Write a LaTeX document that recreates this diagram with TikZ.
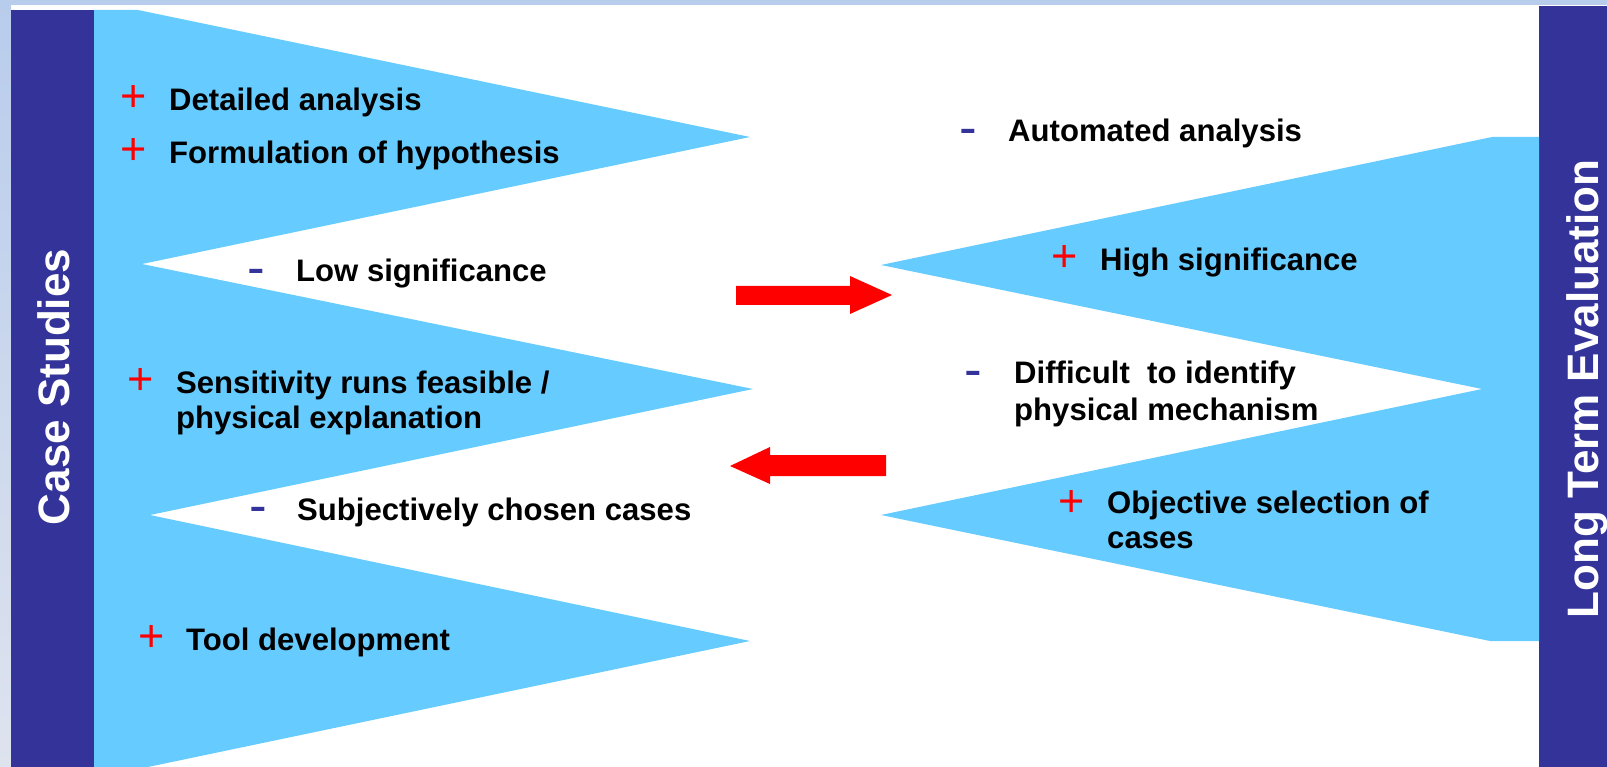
\documentclass[tikz,border=0pt]{standalone}
\usepackage{fontspec}
\setmainfont{Liberation Sans}
\definecolor{barblue}{HTML}{333399}
\definecolor{skyfill}{HTML}{66CCFF}
\definecolor{topband}{HTML}{B8CCEC}
\definecolor{stripend}{HTML}{DEE3EE}
\definecolor{arrowred}{HTML}{FF0000}
\begin{document}
\begin{tikzpicture}[x=1pt,y=-1pt,
  item/.style={anchor=base west, inner sep=0pt, font=\fontsize{31.1}{35}\selectfont\bfseries},
  plus/.style={anchor=base, inner sep=0pt, text=arrowred, font=\fontsize{45}{45}\selectfont},
  minus/.style={anchor=base, inner sep=0pt, text=barblue, font=\fontsize{53}{53}\selectfont},
  vlabel/.style={rotate=90, text=white, font=\fontsize{44}{44}\selectfont\bfseries, inner sep=0pt},
  blockarrow/.style={fill=arrowred, draw=none}]
\useasboundingbox (0,0) rectangle (1607,767);
% background
\fill[white] (0,0) rectangle (1607,767);
\shade[top color=topband, bottom color=stripend] (0,0) rectangle (11,767);
\fill[topband] (0,0) rectangle (1607,5);
% bars
\fill[barblue] (11,10) rectangle (94,767);
\fill[barblue] (1539,6) rectangle (1607,767);
% left zigzag
\fill[skyfill] (94,10) -- (138,10) -- (750,137) -- (142,264) -- (753,389)
  -- (150,515) -- (750,641) -- (148,767) -- (94,767) -- cycle;
% right zigzag
\fill[skyfill] (1539,137) -- (1492,137) -- (881,265) -- (1482,389)
  -- (881,515) -- (1490,641) -- (1539,641) -- cycle;
% arrows
\fill[blockarrow] (736,286) -- (850,286) -- (850,276) -- (892,295) -- (850,314) -- (850,305) -- (736,305) -- cycle;
\fill[blockarrow] (886,455) -- (770,455) -- (770,447) -- (730,466) -- (770,484) -- (770,476) -- (886,476) -- cycle;
% vertical labels
\node[vlabel, anchor=base] (cs) at (69,387) {Case Studies};
\node[vlabel, anchor=base] (lte) at (1598,389) {Long Term Evaluation};
% left texts
\node[plus] (p1) at (134,111.5) {+};
\node[item] (t1) at (169,110.5) {Detailed analysis};
\node[plus] (p2) at (134,164.5) {+};
\node[item] (t2) at (169,164) {Formulation of hypothesis};
\node[minus] (m1) at (256,285.5) {-};
\node[item] (t3) at (296,282) {Low significance};
\node[plus] (p3) at (141,394) {+};
\node[item] (t4a) at (176,393) {Sensitivity runs feasible /};
\node[item] (t4b) at (176,428.5) {physical explanation};
\node[minus] (m2) at (258,523.5) {-};
\node[item] (t5) at (297,520) {Subjectively chosen cases};
\node[plus] (p4) at (152,651) {+};
\node[item] (t6) at (186,650) {Tool development};
% right texts
\node[minus] (m3) at (968,145.5) {-};
\node[item] (t7) at (1008,142) {Automated analysis};
\node[plus] (p5) at (1065,272) {+};
\node[item] (t8) at (1100,271) {High significance};
\node[minus] (m4) at (973,387.5) {-};
\node[item] (t9a) at (1014,384) {Difficult\ \ to identify};
\node[item] (t9b) at (1014,420) {physical mechanism};
\node[plus] (p6) at (1072,516) {+};
\node[item] (t10a) at (1107,513) {Objective selection of};
\node[item] (t10b) at (1107,548) {cases};
\end{tikzpicture}
\end{document}
